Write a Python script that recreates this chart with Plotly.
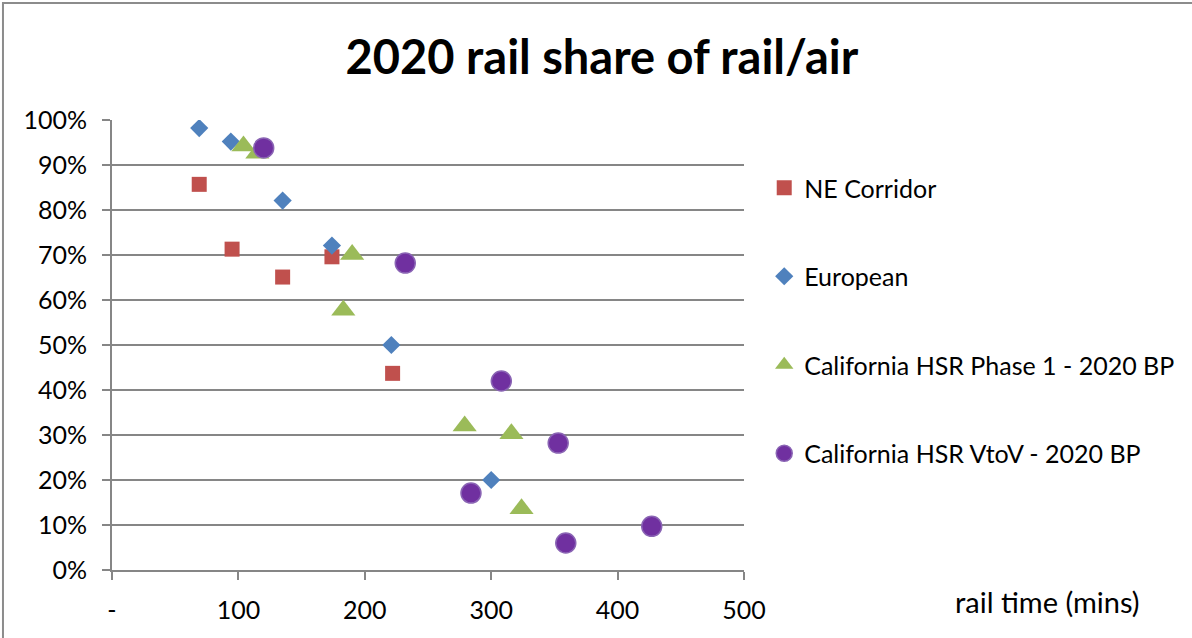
import plotly.graph_objects as go

# Rail travel time (minutes) and rail share of the rail/air market, per corridor
ne_time = [69, 95, 135, 174, 222]
ne_share = [0.857, 0.713, 0.651, 0.696, 0.437]

eu_time = [69, 94, 135, 174, 221, 300]
eu_share = [0.982, 0.952, 0.821, 0.721, 0.500, 0.200]

ph1_time = [104, 115, 190, 183, 279, 316, 324]
ph1_share = [0.942, 0.926, 0.701, 0.577, 0.320, 0.303, 0.136]

vtov_time = [120, 232, 308, 353, 284, 427, 359]
vtov_share = [0.938, 0.682, 0.420, 0.282, 0.171, 0.097, 0.060]

x_ticks = [0, 100, 200, 300, 400, 500]
x_tick_text = ["-", "100", "200", "300", "400", "500"]
y_ticks = [i / 10 for i in range(11)]

FONT = "Lato"
GRID = "#868686"

fig = go.Figure()
fig.add_trace(go.Scatter(
    x=ne_time, y=ne_share, mode="markers", name="NE Corridor",
    legendgroup="a",
    marker=dict(symbol="square", size=15, color="#C0504D"),
))
fig.add_trace(go.Scatter(
    x=eu_time, y=eu_share, mode="markers", name="European",
    legendgroup="b",
    marker=dict(symbol="diamond", size=14, color="#4F81BD"),
))
fig.add_trace(go.Scatter(
    x=ph1_time, y=ph1_share, mode="markers", name="California HSR Phase 1 - 2020 BP",
    legendgroup="c",
    marker=dict(symbol="triangle-up", size=21, color="#9BBB59"),
))
fig.add_trace(go.Scatter(
    x=vtov_time, y=vtov_share, mode="markers", name="California HSR VtoV - 2020 BP",
    legendgroup="d",
    marker=dict(symbol="circle", size=20, color="#7030A0",
                line=dict(color="#8A64B4", width=1.5)),
))

fig.update_layout(
    width=1192, height=638,
    margin=dict(l=112, r=448, t=120, b=68),
    paper_bgcolor="white", plot_bgcolor="white",
    font=dict(family=FONT, size=24, color="black"),
    title=dict(text="<b>2020 rail share of rail/air</b>", x=0.505, xanchor="center",
               y=0.91, yanchor="middle",
               font=dict(family=FONT, size=47, color="black")),
    showlegend=True,
    legend=dict(x=1.032, xanchor="left", y=0.900, yanchor="top",
                traceorder="grouped", tracegroupgap=53,
                font=dict(family=FONT, size=25, color="black"),
                itemwidth=30, bgcolor="rgba(0,0,0,0)"),
    xaxis=dict(range=[0, 500], tickvals=x_ticks, ticktext=x_tick_text,
               showgrid=False, zeroline=False, showline=True,
               linecolor=GRID, linewidth=2, ticks="outside", ticklen=8,
               tickcolor=GRID, tickwidth=1.5, ticklabelstandoff=9,
               tickfont=dict(family=FONT, size=25)),
    yaxis=dict(range=[0, 1], tickvals=y_ticks, tickformat=".0%",
               showgrid=True, gridcolor=GRID, gridwidth=2, zeroline=False,
               showline=True, linecolor=GRID, linewidth=2,
               ticks="outside", ticklen=8, tickcolor=GRID, tickwidth=2,
               ticklabelstandoff=10, tickfont=dict(family=FONT, size=25)),
    shapes=[dict(type="rect", xref="paper", yref="paper",
                 x0=-0.1725, x1=2.0, y0=-1.0, y1=1.26,
                 line=dict(color="#8C8C8C", width=2), layer="below")],
    annotations=[dict(text="rail time (mins)", xref="paper", yref="paper",
                      x=1.481, y=-0.071, xanchor="center", yanchor="middle",
                      showarrow=False, font=dict(family=FONT, size=29))],
)

fig.write_html("out.html")
